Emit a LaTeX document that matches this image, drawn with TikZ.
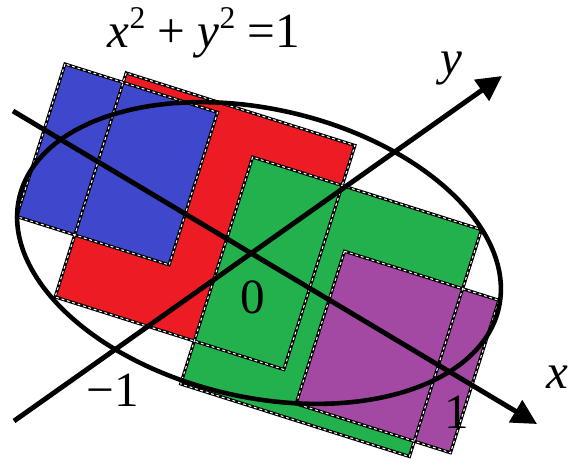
\documentclass[tikz,border=0pt]{standalone}
\usepackage{fontspec}
\setmainfont{Liberation Serif}
\usetikzlibrary{arrows.meta}
\definecolor{sqred}{RGB}{237,28,36}
\definecolor{sqgreen}{RGB}{34,177,76}
\definecolor{sqblue}{RGB}{63,72,204}
\definecolor{sqpurple}{RGB}{163,73,164}
\newcommand{\squared}{\raisebox{11pt}{\fontsize{18}{18}\selectfont\upshape 2}}

\begin{document}
\begin{tikzpicture}[x=0.02cm, y=-0.02cm,
        rim/.style={draw=black, line width=1.8pt},
        rimdash/.style={draw=white, line width=0.6pt, dash pattern=on 1.6pt off 1.6pt},
        axis/.style={line width=2.8pt, -{Triangle[length=0.5cm, width=0.5cm]}},
        curve/.style={line width=2.6pt},
        lab/.style={font=\fontsize{28}{30}\selectfont, inner sep=0pt}
    ]
    \useasboundingbox (0,0) rectangle (571,461);

    % tilted squares: fills first, then all the borders on top
    \begin{scope}[shift={(65,64)}, rotate=-17.6]
        \fill[sqred]    (61,-10) rectangle (301,225);
        \fill[sqgreen]  (207,32) rectangle (447,270);
        \fill[sqblue]   (0,0)    rectangle (160,160);
        \fill[sqpurple] (323,94) rectangle (485,254);
        \foreach \a/\b/\c/\d in {61/-10/301/225, 207/32/447/270, 0/0/160/160, 323/94/485/254}
            \draw[rim] (\a,\b) rectangle (\c,\d);
        \foreach \a/\b/\c/\d in {61/-10/301/225, 207/32/447/270, 0/0/160/160, 323/94/485/254}
            \draw[rimdash] (\a,\b) rectangle (\c,\d);
    \end{scope}

    \coordinate (centre) at (259,253);
    \coordinate (xtail) at (13,111);
    \coordinate (xhead) at (537,424);
    \coordinate (ytail) at (14,421);
    \coordinate (yhead) at (502,76);

    \draw[curve, rotate around={-13:(centre)}] (centre) ellipse [x radius=246, y radius=144];
    \draw[axis] (xtail) -- (xhead);
    \draw[axis] (ytail) -- (yhead);

    \node[lab] (eqn) at (204,33) {\textit{x}\squared{} + \textit{y}\squared{} =1};
    \node[lab, font=\fontsize{28}{30}\selectfont\itshape] (ylab) at (451,69) {y};
    \node[lab, font=\fontsize{28}{30}\selectfont\itshape] (xlab) at (557,377) {x};
    \node[lab] (zero) at (253,297) {0};
    \node[lab] (one) at (457,412) {1};
    \node[lab] (minusone) at (113,390) {−1};
\end{tikzpicture}
\end{document}
